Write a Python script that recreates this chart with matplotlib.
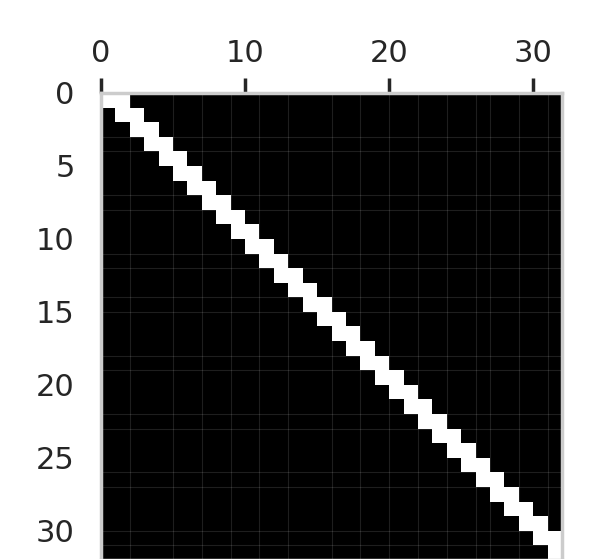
import matplotlib
matplotlib.use('Agg')
import matplotlib.pyplot as plt
import numpy as np

# banded 0/1 matrix: each row lights up its own column and the next one
n_rows = 32
n_cols = 32
band_offsets = [0, 1]
x_ticks = [0, 10, 20, 30]
y_ticks = [0, 5, 10, 15, 20, 25, 30]

mat = np.zeros((n_rows, n_cols))
for k in band_offsets:
    mat += np.eye(n_rows, n_cols, k=k)

# faint rendering seams visible in the original (only show over black)
seam_x = [2, 5, 7, 9, 11, 13, 16, 18, 20, 22, 24, 26, 27, 29, 31]
seam_y = [3, 4, 7, 8, 11, 12, 14, 15, 18, 19, 22, 23, 26, 27, 30, 31]

plt.rcParams['font.family'] = ['DejaVu Sans']
text_col = '#262626'

fig = plt.figure(figsize=(5.98, 5.59), dpi=100)
ax = fig.add_axes([101 / 598, 1 - 560 / 559, 461 / 598, 467 / 559])

xe = np.arange(n_cols + 1)
ye = np.arange(n_rows + 1)
ax.pcolormesh(xe, ye, mat, cmap='gray', vmin=0, vmax=1, antialiased=True)
for sx in seam_x:
    ax.axvline(sx, color='white', alpha=0.12, lw=0.8)
for sy in seam_y:
    ax.axhline(sy, color='white', alpha=0.12, lw=0.8)
ax.set_xlim(0, n_cols)
ax.set_ylim(n_rows, 0)

ax.xaxis.tick_top()
ax.set_xticks(x_ticks)
ax.set_yticks(y_ticks)
ax.tick_params(axis='x', top=True, length=11, width=2.5, color=text_col,
               labelsize=22, labelcolor=text_col, pad=7)
ax.tick_params(axis='y', left=False, labelsize=22, labelcolor=text_col, pad=15.5)

for s in ax.spines.values():
    s.set_color('#cccccc')
    s.set_linewidth(2.5)

fig.savefig('out.png', dpi=100)
